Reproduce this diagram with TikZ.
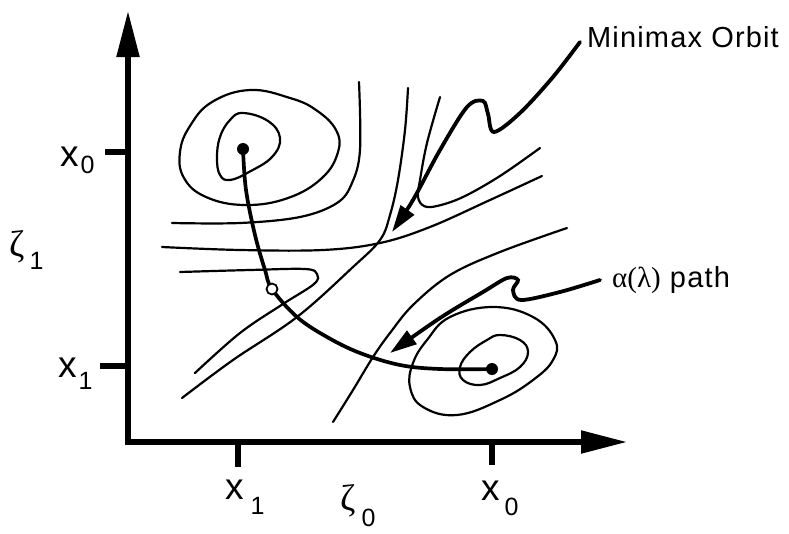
\documentclass[tikz,border=0pt]{standalone}
\usepackage{fontspec}
\setmainfont{Liberation Sans}
\newfontfamily\lblfont[LetterSpace=4]{Liberation Sans}
\newfontfamily\grk{Liberation Serif}
\usetikzlibrary{arrows.meta}
\newcommand\bigx{\fontsize{37}{37}\selectfont x}
\newcommand\subd[1]{{\fontsize{25}{25}\selectfont #1}}
\newcommand\zet{{\grk\fontsize{37}{37}\selectfont ζ}}
\begin{document}
\begin{tikzpicture}[x=1pt,y=-1pt,
  contour/.style={line width=2.2pt,line cap=round},
  axisline/.style={line width=5.2pt,line join=miter,
     {Triangle[length=46pt,width=22pt]}-{Triangle[length=46pt,width=22pt]}},
  tickline/.style={line width=5.2pt},
  apath/.style={line width=3.7pt,line cap=round},
  leader/.style={line width=3.8pt,line cap=round,-{Triangle[length=27pt,width=16pt]}},
  dotnode/.style={circle,fill=black,inner sep=0pt,minimum size=12pt},
  odotnode/.style={circle,draw=black,fill=white,line width=1.8pt,inner sep=0pt,minimum size=11pt},
  lbl/.style={inner sep=0pt,anchor=base west},
]
\useasboundingbox (0,0) rectangle (789,533);

% axes
\coordinate (ytop) at (128,11);
\coordinate (xend) at (627,442);
\draw[axisline] (ytop) |- (xend);

% ticks
\coordinate (ty0a) at (105,152); \coordinate (ty0b) at (128,152);
\coordinate (ty1a) at (100,366); \coordinate (ty1b) at (128,366);
\coordinate (tx1a) at (238,442); \coordinate (tx1b) at (238,467);
\coordinate (tx0a) at (492,442); \coordinate (tx0b) at (492,465);
\draw[tickline] (ty0a) -- (ty0b);
\draw[tickline] (ty1a) -- (ty1b);
\draw[tickline] (tx1a) -- (tx1b);
\draw[tickline] (tx0a) -- (tx0b);

% axis labels
\node[lbl] (lx0v) at (60,166) {\bigx\kern2pt\raisebox{-7pt}{\subd 0}};
\node[lbl] (lx1v) at (58,377) {\bigx\kern2pt\raisebox{-12pt}{\subd 1}};
\node[lbl] (lx1h) at (225,499) {\bigx\kern7pt\raisebox{-15pt}{\subd 1}};
\node[lbl] (lx0h) at (481,500) {\bigx\kern5pt\raisebox{-15pt}{\subd 0}};
\node[lbl] (z1) at (9,256) {\zet\kern5pt\raisebox{-13pt}{\subd 1}};
\node[lbl] (z0) at (340,510) {\zet\kern6pt\raisebox{-16pt}{\subd 0}};

% contours: upper-left minimum
\draw[contour] plot[smooth cycle,tension=0.7] coordinates {
  (243,113) (268,121) (280,138) (272,157) (249,172) (230,180) (220,175) (217,158) (220,137) (230,120)};
\draw[contour] plot[smooth cycle,tension=0.7] coordinates {
  (250,90) (290,98) (316,110) (336,130) (338,152) (322,178) (288,198) (245,205) (206,197) (184,178) (180,152) (190,126) (212,102)};
\draw[contour] plot[smooth,tension=0.6] coordinates {
  (359,82) (360,150) (352,183) (337,203) (300,217) (240,223) (172,223)};
\draw[contour] plot[smooth,tension=0.6] coordinates {
  (162,247) (240,250) (323,250) (380,243) (430,227) (490,200) (542,176)};
\draw[contour] plot[smooth,tension=0.6] coordinates {
  (408,88) (405,130) (398,180) (390,215) (380,240) (353,267) (297,317) (233,360) (182,398)};
\draw[contour] plot[smooth,tension=0.6] coordinates {
  (180,272) (250,270) (305,269) (317,274) (314,284) (283,304) (240,333) (195,373)};
\draw[contour] plot[smooth,tension=0.6] coordinates {
  (440,97) (427,143) (420,180) (418,197) (424,206) (437,206) (463,197) (500,176) (540,148)};
\draw[contour] plot[smooth,tension=0.6] coordinates {
  (567,228) (500,252) (450,275) (413,305) (390,333) (373,357) (353,390) (333,422)};
% lower-right minimum
\draw[contour] plot[smooth cycle,tension=0.7] coordinates {
  (493,307) (533,317) (555,340) (553,360) (533,380) (500,400) (457,415) (423,407) (410,387) (413,363) (427,340) (450,317)};
\draw[contour] plot[smooth cycle,tension=0.7] coordinates {
  (500,335) (520,340) (528,352) (520,367) (500,378) (480,385) (463,380) (460,367) (470,352) (487,340)};

% alpha(lambda) path
\node[dotnode] (m0) at (243,149) {};
\node[dotnode] (m1) at (492,369) {};
\draw[apath] plot[smooth,tension=0.6] coordinates {
  (m0.center) (246,190) (255,235) (265,270) (272,289) (297,317) (327,337) (360,353) (400,365) (440,369) (m1.center)};
\node[odotnode] (mid) at (272,289) {};

% labels and leaders
\node[lbl,font=\lblfont\fontsize{29}{29}\selectfont] (mm) at (587,47) {Minimax Orbit};
\node[lbl,font=\lblfont\fontsize{29}{29}\selectfont] (ap) at (612,287) {{\grk α(λ)} path};
\coordinate (l1s) at (580,42);
\coordinate (l1t) at (392,232);
\coordinate (l2s) at (600,280);
\coordinate (l2t) at (390,353);
\draw[leader] plot[smooth,tension=0.55] coordinates {
  (l1s) (553,77) (520,113) (494,132) (488,114) (483,101) (467,107) (440,150) (413,200) (l1t)};
\draw[leader] plot[smooth,tension=0.55] coordinates {
  (l2s) (560,292) (521,300) (513,290) (518,280) (507,278) (483,292) (440,318) (l2t)};
\end{tikzpicture}
\end{document}
